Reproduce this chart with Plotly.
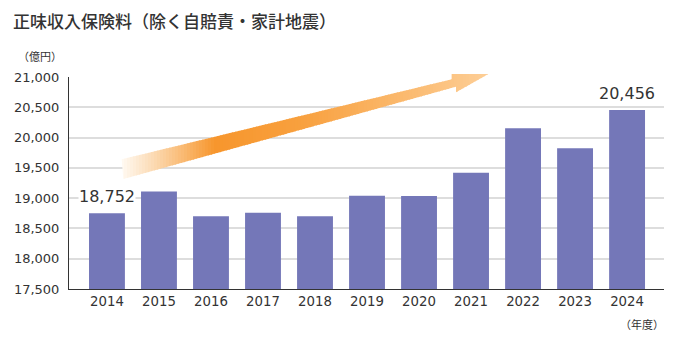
import plotly.graph_objects as go

years = ["2014", "2015", "2016", "2017", "2018", "2019", "2020", "2021", "2022", "2023", "2024"]
premiums = [18752, 19110, 18700, 18760, 18700, 19040, 19035, 19420, 20155, 19825, 20456]
labelled = {"2014": "18,752", "2024": "20,456"}
y_ticks = [17500, 18000, 18500, 19000, 19500, 20000, 20500, 21000]
y_ticktext = [f"{v:,}" for v in y_ticks]

W, H = 676, 340
L, R, T, B = 69, 12, 77, 51
PW, PH = W - L - R, H - T - B
FONT = "Noto Sans CJK JP"
NUMFONT = "DejaVu Sans, Noto Sans CJK JP"
BAR = "#7477B8"
TXT = "#333333"

fig = go.Figure()
fig.add_trace(go.Bar(x=list(range(len(years))), y=premiums, marker=dict(color=BAR, line=dict(width=0)),
                     width=0.69, hoverinfo="skip"))

# gradient arrow (decoration) in pixel space -> paper
arrow_px = [(121.7, 159.3), (451.7, 79.3), (451.7, 74.0), (488.3, 74.0),
            (456.0, 92.3), (456.0, 86.7), (123.3, 179.0)]

def clip(poly, x0, x1):
    def clip_edge(pts, keep, inter):
        out = []
        n = len(pts)
        for i in range(n):
            a, b = pts[i], pts[(i + 1) % n]
            ka, kb = keep(a), keep(b)
            if ka:
                out.append(a)
                if not kb:
                    out.append(inter(a, b))
            elif kb:
                out.append(inter(a, b))
        return out
    def ix(xc):
        def f(a, b):
            t = (xc - a[0]) / (b[0] - a[0])
            return (xc, a[1] + t * (b[1] - a[1]))
        return f
    p = clip_edge(poly, lambda q: q[0] >= x0, ix(x0))
    if not p:
        return p
    p = clip_edge(p, lambda q: q[0] <= x1, ix(x1))
    return p

stops = [(121.0, (255, 250, 244)), (150.0, (252, 222, 186)), (215.0, (247, 150, 45)),
         (300.0, (248, 160, 62)), (488.5, (253, 206, 150))]

def col(x):
    for (xa, ca), (xb, cb) in zip(stops, stops[1:]):
        if xa <= x <= xb:
            t = (x - xa) / (xb - xa)
            return "rgb(%d,%d,%d)" % tuple(round(ca[k] + t * (cb[k] - ca[k])) for k in range(3))
    return "rgb(%d,%d,%d)" % stops[-1][1]

def px2paper(p):
    return ((p[0] - L) / PW, (H - B - p[1]) / PH)

shapes = []
step = 3.0
x = 121.0
while x < 489:
    seg = clip(arrow_px, x, x + step + 0.8)
    if len(seg) >= 3:
        pts = [px2paper(q) for q in seg]
        path = "M " + " L ".join(f"{a:.5f},{b:.5f}" for a, b in pts) + " Z"
        shapes.append(dict(type="path", xref="paper", yref="paper", path=path,
                           fillcolor=col(x + step / 2), line=dict(width=0), layer="above"))
    x += step

annotations = [
    dict(text="正味収入保険料（除く自賠責・家計地震）", xref="paper", yref="paper",
         x=(11 - L) / PW, y=(H - B - 20) / PH, xanchor="left", yanchor="middle",
         showarrow=False, font=dict(family=FONT, size=17, color=TXT, weight=500)),
    dict(text="（億円）", xref="paper", yref="paper", x=(64 - L) / PW, y=(H - B - 56) / PH,
         xanchor="right", yanchor="middle", showarrow=False,
         font=dict(family=FONT, size=11, color=TXT)),
    dict(text="（年度）", xref="paper", yref="paper", x=(666 - L) / PW, y=(H - B - 324) / PH,
         xanchor="right", yanchor="middle", showarrow=False,
         font=dict(family=FONT, size=11, color=TXT)),
]
for i, yr in enumerate(years):
    if yr in labelled:
        annotations.append(dict(text=labelled[yr], x=i, y=premiums[i], xref="x", yref="y",
                                yanchor="bottom", yshift=6, showarrow=False, bgcolor="white",
                                borderpad=0,
                                font=dict(family=NUMFONT, size=16, color=TXT)))

fig.update_layout(
    width=W, height=H, margin=dict(l=L, r=R, t=T, b=B),
    paper_bgcolor="white", plot_bgcolor="white", showlegend=False,
    bargap=0.31, shapes=shapes, annotations=annotations,
    font=dict(family=FONT, color=TXT),
)
fig.update_xaxes(range=[-0.73, 10.71], tickmode="array", tickvals=list(range(len(years))),
                 ticktext=years, showgrid=False, showline=True, linecolor="#333333", linewidth=1,
                 ticks="", tickfont=dict(family=NUMFONT, size=13.3, color=TXT), fixedrange=True)
fig.update_yaxes(range=[17500, 21000], tickvals=y_ticks, ticktext=y_ticktext,
                 showgrid=True, gridcolor="#DDDDDD", gridwidth=1.5, zeroline=False,
                 showline=True, linecolor="#333333", linewidth=1, ticks="",
                 ticklabelstandoff=6,
                 tickfont=dict(family=NUMFONT, size=13, color=TXT), fixedrange=True)

fig.write_html("out.html", config={"displayModeBar": False})
